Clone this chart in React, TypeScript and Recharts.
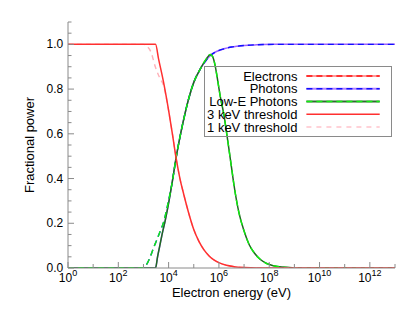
import React from 'react';
import { LineChart, Line, XAxis, YAxis } from 'recharts';

const FONT = '"Liberation Sans", Arial, Helvetica, sans-serif';
const FRAME = '#8a8a8a';

// x = log10(electron energy / eV), y = fractional power
const electrons3keV: [number, number][] = [
  [0, 1], [3.48, 1], [3.6, 0.935], [3.8, 0.83], [4.0, 0.705], [4.15, 0.6], [4.3, 0.49],
  [4.45, 0.4], [4.6, 0.33], [4.8, 0.245], [5.0, 0.172], [5.2, 0.12], [5.4, 0.082],
  [5.6, 0.055], [5.8, 0.036], [6.0, 0.024], [6.3, 0.012], [6.6, 0.006], [7.0, 0.002],
  [7.5, 0], [13, 0],
];
const electrons1keV: [number, number][] = [
  [0, 1], [3.0, 1], [3.15, 0.99], [3.3, 0.965], [3.47, 0.9], [3.6, 0.862], [3.7, 0.84],
  [3.8, 0.815], [4.0, 0.703], [4.15, 0.6], [4.3, 0.49], [4.45, 0.4], [4.6, 0.33],
  [4.8, 0.245], [5.0, 0.172], [5.2, 0.12], [5.4, 0.082], [5.6, 0.055], [5.8, 0.036],
  [6.0, 0.024], [6.3, 0.012], [6.6, 0.006], [7.0, 0.002], [7.5, 0], [13, 0],
];
const photons3keV: [number, number][] = [
  [0, 0], [3.48, 0], [3.56, 0.05], [3.65, 0.1], [3.73, 0.145], [3.86, 0.21], [4.0, 0.29],
  [4.13, 0.375], [4.3, 0.495], [4.45, 0.585], [4.6, 0.665], [4.8, 0.758], [5.0, 0.83],
  [5.26, 0.89], [5.5, 0.93], [5.66, 0.95], [5.9, 0.968], [6.2, 0.98], [6.5, 0.988],
  [7.0, 0.995], [7.5, 0.998], [8.2, 1], [13, 1],
];
const photons1keV: [number, number][] = [
  [0, 0], [2.95, 0], [3.1, 0.012], [3.27, 0.05], [3.4, 0.09], [3.53, 0.125], [3.65, 0.16],
  [3.8, 0.205], [3.95, 0.275], [4.06, 0.335], [4.13, 0.375], [4.3, 0.495], [4.45, 0.585],
  [4.6, 0.665], [4.8, 0.758], [5.0, 0.83], [5.26, 0.89], [5.5, 0.93], [5.66, 0.95],
  [5.9, 0.968], [6.2, 0.98], [6.5, 0.988], [7.0, 0.995], [7.5, 0.998], [8.2, 1], [13, 1],
];
const lowE3keV: [number, number][] = [
  [0, 0], [3.48, 0], [3.56, 0.05], [3.65, 0.1], [3.73, 0.145], [3.86, 0.21], [4.0, 0.29],
  [4.13, 0.375], [4.3, 0.495], [4.45, 0.585], [4.6, 0.665], [4.8, 0.758], [5.0, 0.83],
  [5.26, 0.89], [5.5, 0.935], [5.66, 0.955], [5.75, 0.945], [5.85, 0.905], [5.92, 0.86],
  [6.05, 0.77], [6.19, 0.69], [6.35, 0.57], [6.5, 0.45], [6.6, 0.37], [6.8, 0.245],
  [7.0, 0.165], [7.2, 0.105], [7.4, 0.068], [7.65, 0.038], [7.9, 0.02], [8.17, 0.01],
  [8.5, 0.004], [9.0, 0.001], [9.5, 0], [13, 0],
];
const lowE1keV: [number, number][] = [
  [0, 0], [2.95, 0], [3.1, 0.012], [3.27, 0.05], [3.4, 0.09], [3.53, 0.125], [3.65, 0.16],
  [3.8, 0.205], [3.95, 0.275], [4.06, 0.335], [4.13, 0.375], [4.3, 0.495], [4.45, 0.585],
  [4.6, 0.665], [4.8, 0.758], [5.0, 0.83], [5.26, 0.89], [5.5, 0.935], [5.66, 0.955],
  [5.75, 0.945], [5.85, 0.905], [5.92, 0.86], [6.05, 0.77], [6.19, 0.69], [6.35, 0.57],
  [6.5, 0.45], [6.6, 0.37], [6.8, 0.245], [7.0, 0.165], [7.2, 0.105], [7.4, 0.068],
  [7.65, 0.038], [7.9, 0.02], [8.17, 0.01], [8.5, 0.004], [9.0, 0.001], [9.5, 0], [13, 0],
];

const xTicks = [0, 1, 2, 3, 4, 5, 6, 7, 8, 9, 10, 11, 12, 13];
const yTicks = [0, 0.05, 0.1, 0.15, 0.2, 0.25, 0.3, 0.35, 0.4, 0.45, 0.5, 0.55, 0.6, 0.65,
  0.7, 0.75, 0.8, 0.85, 0.9, 0.95, 1.0, 1.05, 1.1];

const legendItems = [
  { label: 'Electrons', under: '#ff9a9a', over: '#ff1010', dash: '6 4' },
  { label: 'Photons', under: '#b080ff', over: '#1010ff', dash: '6 4' },
  { label: 'Low-E Photons', under: '#2f6a2f', over: '#10ee10', dash: '6 4' },
  { label: '3 keV threshold', under: null, over: '#ff3030', dash: undefined },
  { label: '1 keV threshold', under: null, over: '#ffc4cc', dash: '5 5' },
];

const toPts = (arr: [number, number][]) => arr.map(([x, y]) => ({ x, y }));

const isMajorY = (v: number) => Math.abs(v * 5 - Math.round(v * 5)) < 1e-6;

const XTickBottom = (props: any) => {
  const { x, y, payload } = props;
  const v = payload.value as number;
  const major = v % 2 === 0;
  return (
    <g>
      <line x1={x} x2={x} y1={y} y2={y - (major ? 6 : 4)} stroke={FRAME} />
      {major && v < 13 && (
        <text x={x} y={y + 13.7} textAnchor="middle" fontSize={12} fontFamily={FONT} fill="#000">
          <tspan>10</tspan>
          <tspan dy={-6} fontSize={9}>{v}</tspan>
        </text>
      )}
    </g>
  );
};

const XTickTop = (props: any) => {
  const { x, y, payload } = props;
  const major = (payload.value as number) % 2 === 0;
  return <line x1={x} x2={x} y1={y} y2={y + (major ? 6 : 4)} stroke={FRAME} />;
};

const YTickLeft = (props: any) => {
  const { x, y, payload } = props;
  const v = payload.value as number;
  const major = isMajorY(v);
  return (
    <g>
      <line x1={x} x2={x + (major ? 6 : 3.5)} y1={y} y2={y} stroke={FRAME} />
      {major && v <= 1.0001 && (
        <text x={x - 4.7} y={y + 4} textAnchor="end" fontSize={12} fontFamily={FONT} fill="#000">
          {v.toFixed(1)}
        </text>
      )}
    </g>
  );
};

const YTickRight = (props: any) => {
  const { x, y, payload } = props;
  const major = isMajorY(payload.value as number);
  return <line x1={x} x2={x - (major ? 6 : 3.5)} y1={y} y2={y} stroke={FRAME} />;
};

export default function App() {
  return (
    <div style={{ position: 'relative', width: 400, height: 300, fontFamily: FONT }}>
      <LineChart width={400} height={300} margin={{ top: 14, right: 13, left: 0, bottom: 0 }}>
        <XAxis
          xAxisId="b"
          type="number"
          dataKey="x"
          domain={[0, 13]}
          ticks={xTicks}
          interval={0}
          allowDataOverflow
          height={40}
          tickSize={0}
          tickMargin={0}
          tickLine={false}
          axisLine={{ stroke: FRAME }}
          tick={<XTickBottom />}
          label={{
            content: () => (
              <text x={223.5} y={289} textAnchor="middle" fontSize={13} fontFamily={FONT} fill="#000">
                Electron energy (eV)
              </text>
            ),
          }}
        />
        <XAxis
          xAxisId="t"
          orientation="top"
          type="number"
          dataKey="x"
          domain={[0, 13]}
          ticks={xTicks}
          interval={0}
          allowDataOverflow
          height={0}
          tickSize={0}
          tickMargin={0}
          tickLine={false}
          axisLine={{ stroke: FRAME }}
          tick={<XTickTop />}
        />
        <YAxis
          yAxisId="l"
          type="number"
          domain={[0, 1.1]}
          ticks={yTicks}
          interval={0}
          allowDataOverflow
          width={60}
          tickSize={0}
          tickMargin={0}
          tickLine={false}
          axisLine={{ stroke: FRAME }}
          tick={<YTickLeft />}
          label={{
            content: () => (
              <text
                x={26}
                y={137}
                transform="rotate(-90 26 137)"
                textAnchor="middle"
                fontSize={13}
                fontFamily={FONT}
                fill="#000"
              >
                Fractional power
              </text>
            ),
          }}
        />
        <YAxis
          yAxisId="r"
          orientation="right"
          type="number"
          domain={[0, 1.1]}
          ticks={yTicks}
          interval={0}
          allowDataOverflow
          width={0}
          tickSize={0}
          tickMargin={0}
          tickLine={false}
          axisLine={{ stroke: FRAME }}
          tick={<YTickRight />}
        />
        <Line xAxisId="b" yAxisId="l" data={toPts(photons3keV)} dataKey="y" type="monotone"
          stroke="#9a60ff" strokeWidth={1.5} dot={false} isAnimationActive={false} />
        <Line xAxisId="b" yAxisId="l" data={toPts(photons1keV)} dataKey="y" type="monotone"
          stroke="#1010ff" strokeWidth={1.4} strokeDasharray="6 4" dot={false} isAnimationActive={false} />
        <Line xAxisId="b" yAxisId="l" data={toPts(lowE3keV)} dataKey="y" type="monotone"
          stroke="#1f6a1f" strokeWidth={1.5} dot={false} isAnimationActive={false} />
        <Line xAxisId="b" yAxisId="l" data={toPts(lowE1keV)} dataKey="y" type="monotone"
          stroke="#10ee10" strokeWidth={1.4} strokeDasharray="6 4" dot={false} isAnimationActive={false} />
        <Line xAxisId="b" yAxisId="l" data={toPts(electrons1keV)} dataKey="y" type="monotone"
          stroke="#ffb0b8" strokeWidth={1.4} strokeDasharray="5 4" dot={false} isAnimationActive={false} />
        <Line xAxisId="b" yAxisId="l" data={toPts(electrons3keV)} dataKey="y" type="monotone"
          stroke="#ff3030" strokeWidth={1.5} dot={false} isAnimationActive={false} />
      </LineChart>
      <div
        style={{
          position: 'absolute',
          left: 196,
          top: 58,
          width: 188,
          height: 71,
          border: `1px solid ${FRAME}`,
          boxSizing: 'border-box',
          pointerEvents: 'none',
        }}
      >
        <svg width={186} height={69} style={{ display: 'block' }}>
          {legendItems.map((it, i) => {
            const cy = 9 + i * 12.75;
            return (
              <g key={it.label}>
                <text x={92.4} y={cy + 4.6} textAnchor="end" fontSize={13} fontFamily={FONT} fill="#000">
                  {it.label}
                </text>
                {it.under && (
                  <line x1={101.4} x2={174.7} y1={cy} y2={cy} stroke={it.under} strokeWidth={1.8} />
                )}
                <line x1={101.4} x2={174.7} y1={cy} y2={cy} stroke={it.over} strokeWidth={1.5}
                  strokeDasharray={it.dash} />
              </g>
            );
          })}
        </svg>
      </div>
    </div>
  );
}
